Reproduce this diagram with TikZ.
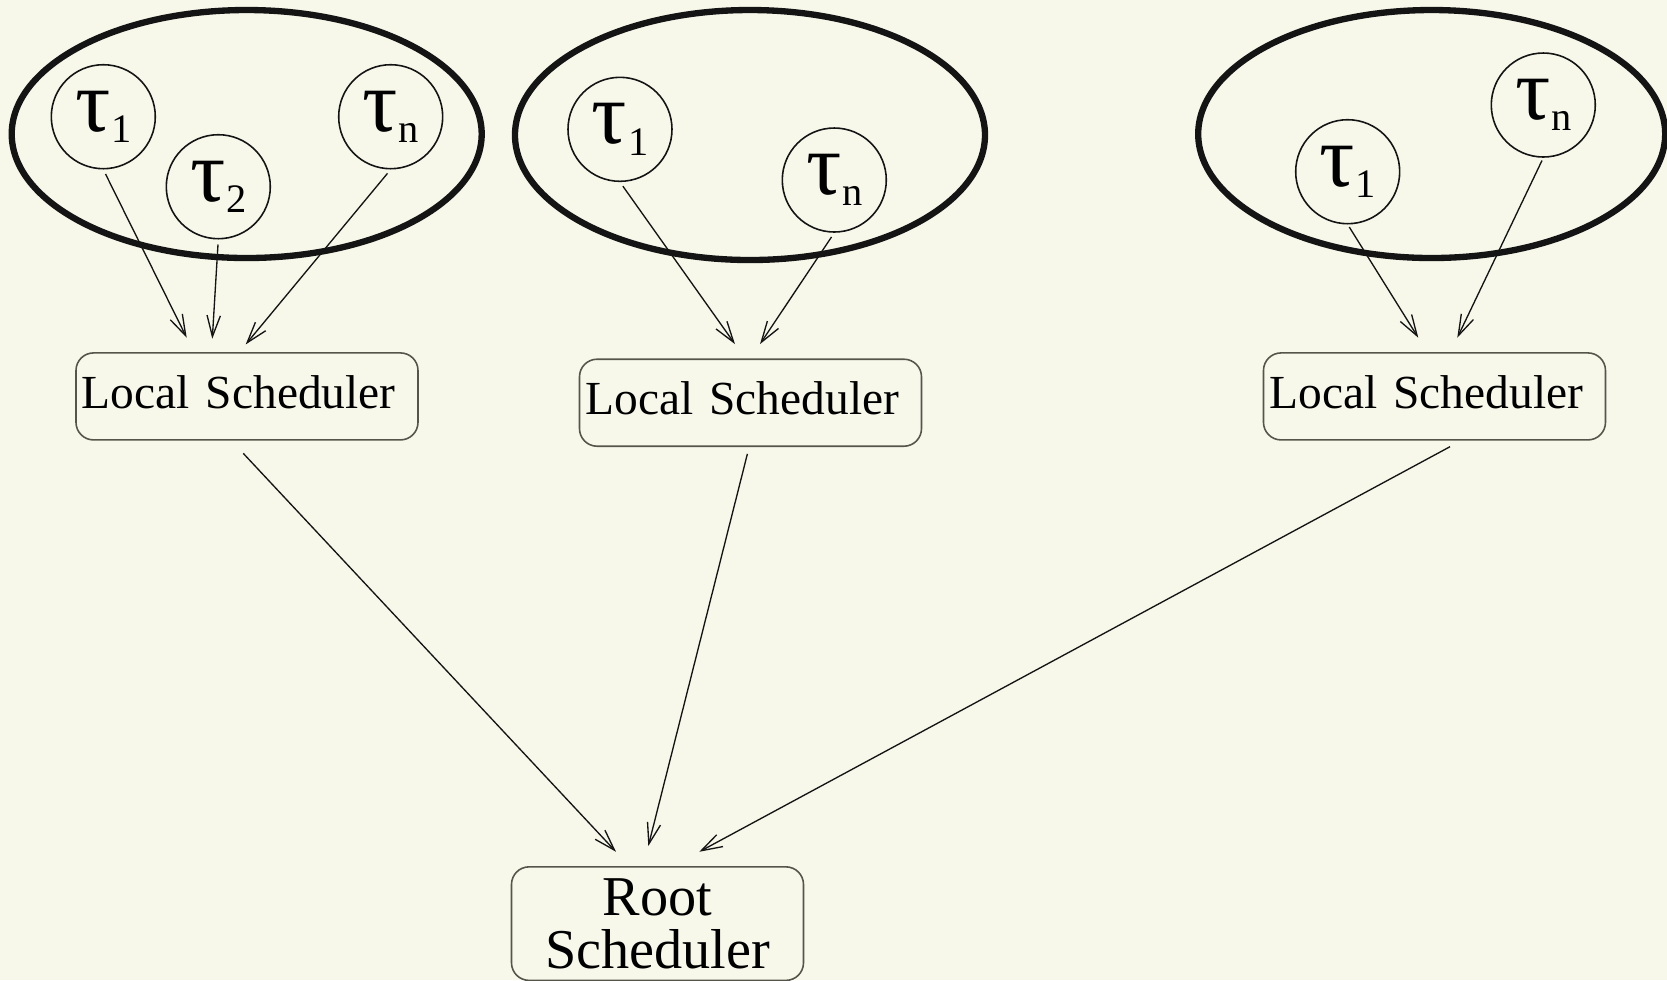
\documentclass[tikz,border=0pt]{standalone}
\usepackage{fontspec}
\setmainfont{Liberation Serif}
\usepackage{tikz}
\usetikzlibrary{arrows.meta,positioning,shapes.geometric}
\usepackage{xcolor}
\definecolor{ink}{RGB}{20,20,20}
\definecolor{paper}{RGB}{247,248,234}
\definecolor{rim}{RGB}{85,85,75}
\newcommand{\tsk}[1]{{\fontsize{25}{25}\selectfont τ}\kern0.3pt\raisebox{-3.2pt}{\fontsize{11.5}{11.5}\selectfont #1}}
\tikzset{
  group/.style={draw=ink,ellipse,line width=1.8pt,minimum width=4.70cm,
    minimum height=2.48cm,inner sep=0pt},
  task/.style={draw=ink,circle,line width=0.45pt,minimum size=1.04cm,
    inner sep=0pt},
  sched/.style={draw=rim,rounded corners=5pt,line width=0.45pt,
    text width=3.30cm,inner xsep=0.6mm,minimum height=0.87cm,align=left,
    text depth=0.85mm,font=\fontsize{13.5}{14}\selectfont},
  root/.style={draw=rim,rounded corners=5pt,line width=0.45pt,
    minimum width=2.92cm,minimum height=1.09cm,align=center,
    font=\fontsize{16}{15}\selectfont},
  arr/.style={-{Straight Barb[length=6pt,width=3.8pt]},line width=0.38pt,ink},
}
\begin{document}
\begin{tikzpicture}
  \fill[paper] (0,0) rectangle (16.67,-9.80);
  \useasboundingbox (0,0) rectangle (16.67,-9.80);
  % first group
  \node[group] (e1) at (2.467,-1.34) {};
  \node[task] (a1) at (1.033,-1.167) {\tsk{1}};
  \node[task] (a2) at (2.183,-1.867) {\tsk{2}};
  \node[task] (an) at (3.907,-1.167) {\tsk{n}};
  \node[sched] (l1) at (2.47,-3.964) {Local Scheduler};
  \draw[arr,shorten <=0.5mm] (a1.south) -- ([xshift=-6.03mm,yshift=1.44mm]l1.north);
  \draw[arr,shorten <=0.5mm] (a2.south) -- ([xshift=-3.47mm,yshift=1.34mm]l1.north);
  \draw[arr,shorten <=0.5mm] (an.south) -- ([xshift=-0.13mm,yshift=0.77mm]l1.north);
  % second group
  \node[group,minimum height=2.50cm] (e2) at (7.50,-1.35) {};
  \node[task] (b1) at (6.20,-1.293) {\tsk{1}};
  \node[task] (bn) at (8.343,-1.80) {\tsk{n}};
  \node[sched] (l2) at (7.505,-4.027) {Local Scheduler};
  \draw[arr,shorten <=0.5mm] (b1.south) -- ([xshift=-1.55mm,yshift=1.43mm]l2.north);
  \draw[arr,shorten <=0.5mm] (bn.south) -- ([xshift=0.95mm,yshift=1.43mm]l2.north);
  % third group
  \node[group,minimum width=4.67cm] (e3) at (14.317,-1.34) {};
  \node[task] (c1) at (13.477,-1.717) {\tsk{1}};
  \node[task] (cn) at (15.433,-1.05) {\tsk{n}};
  \node[sched] (l3) at (14.345,-3.964) {Local Scheduler};
  \draw[arr,shorten <=0.3mm] (c1.south) -- ([xshift=-1.62mm,yshift=1.44mm]l3.north);
  \draw[arr,shorten <=0.3mm] (cn.south) -- ([xshift=2.28mm,yshift=1.44mm]l3.north);
  % root
  \node[root] (rt) at (6.575,-9.236) {Root\\Scheduler};
  \draw[arr] ([xshift=-0.37mm,yshift=-1.27mm]l1.south) -- ([xshift=-4.15mm,yshift=1.43mm]rt.north);
  \draw[arr] ([xshift=-0.31mm,yshift=-0.69mm]l2.south) -- ([xshift=-0.92mm,yshift=2.0mm]rt.north);
  \draw[arr] ([xshift=1.55mm,yshift=-0.6mm]l3.south) -- ([xshift=4.18mm,yshift=1.43mm]rt.north);
\end{tikzpicture}
\end{document}
